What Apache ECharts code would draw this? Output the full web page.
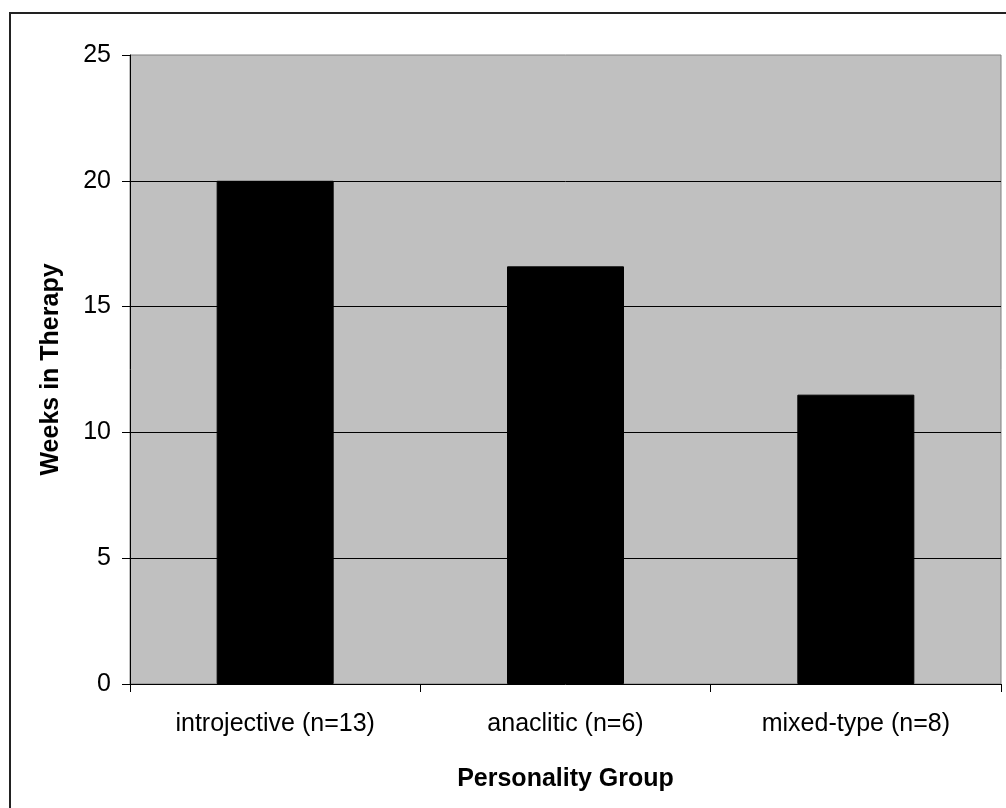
<!DOCTYPE html>
<html>
<head>
<meta charset="utf-8">
<script src="https://cdn.jsdelivr.net/npm/echarts@6/dist/echarts.min.js"></script>
<style>
  html, body { margin: 0; padding: 0; background: #fff; }
  #chart { width: 1006px; height: 808px; }
</style>
</head>
<body>
<div id="chart"></div>
<script>
// Mean weeks in therapy for each personality group
const categories = ['introjective (n=13)', 'anaclitic (n=6)', 'mixed-type (n=8)'];
const weeksInTherapy = [20.0, 16.6, 11.5];
const yTicks = { min: 0, max: 25, interval: 5 };

const FONT = 'Liberation Sans, Arial, sans-serif';

const chart = echarts.init(document.getElementById('chart'), null, { renderer: 'canvas' });
chart.setOption({
  backgroundColor: '#ffffff',
  animation: false,
  graphic: [{
    type: 'rect',
    shape: { x: 10, y: 13, width: 1200, height: 1000 },
    style: { fill: 'none', stroke: '#222', lineWidth: 2 },
    z: 100
  }],
  grid: {
    left: 130, right: 5, top: 55, bottom: 124,
    show: true,
    backgroundColor: '#C0C0C0',
    borderColor: '#808080',
    borderWidth: 1
  },
  xAxis: {
    type: 'category',
    data: categories,
    name: 'Personality Group',
    nameLocation: 'middle',
    nameGap: 83,
    nameTextStyle: { fontFamily: FONT, fontSize: 25, fontWeight: 'bold', color: '#000' },
    axisLine: { show: true, lineStyle: { color: '#000', width: 1 } },
    axisTick: { show: true, alignWithLabel: false, length: 8, lineStyle: { color: '#000' } },
    axisLabel: { fontFamily: FONT, fontSize: 25, color: '#000', margin: 28 },
    splitLine: { show: false }
  },
  yAxis: {
    type: 'value',
    min: yTicks.min,
    max: yTicks.max,
    interval: yTicks.interval,
    name: 'Weeks in Therapy',
    nameLocation: 'middle',
    nameGap: 66,
    nameRotate: 90,
    nameTextStyle: { fontFamily: FONT, fontSize: 25, fontWeight: 'bold', color: '#000' },
    axisLine: { show: true, lineStyle: { color: '#000', width: 1 } },
    axisTick: { show: true, length: 8, lineStyle: { color: '#000' } },
    axisLabel: { fontFamily: FONT, fontSize: 25, color: '#000', margin: 19 },
    splitLine: { show: true, showMinLine: false, showMaxLine: false, lineStyle: { color: '#000', width: 1 } }
  },
  series: [{
    type: 'bar',
    data: weeksInTherapy,
    barWidth: 117,
    itemStyle: { color: '#000', borderColor: '#000', borderWidth: 1 }
  }]
});
</script>
</body>
</html>
